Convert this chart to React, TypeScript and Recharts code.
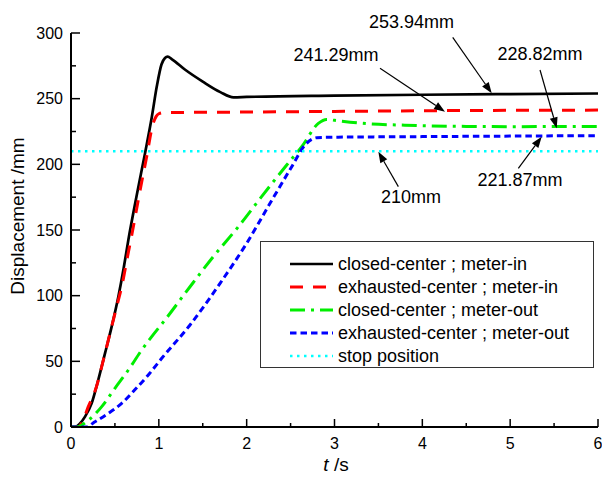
import React from 'react';
import { LineChart, Line, XAxis, YAxis, Legend, ReferenceLine, ReferenceDot } from 'recharts';

const FONT = '"Liberation Sans", Arial, Helvetica, sans-serif';

// closed-center ; meter-in
const closedInT = [0, 0.045, 0.1, 0.16, 0.235, 0.31, 0.387, 0.463, 0.539, 0.6, 0.653, 0.75, 0.843, 0.92, 0.976, 1.03, 1.07, 1.1, 1.15, 1.3, 1.5, 1.7, 1.85, 2.0, 3, 4, 5, 6];
const closedInV = [0, 0, 2.5, 7.9, 18, 35.8, 56, 76.4, 99.2, 121, 142.4, 177, 208.5, 236, 259, 276, 281, 282, 280, 272, 263, 255, 251, 251.3, 252.3, 253.0, 253.5, 253.94];

// exhausted-center ; meter-in
const exhaustedInT = [0, 0.08, 0.13, 0.197, 0.29, 0.368, 0.444, 0.52, 0.584, 0.65, 0.7, 0.78, 0.862, 0.93, 0.97, 1.0, 1.05, 1.2, 2, 3, 4, 5, 6];
const exhaustedInV = [0, 0, 4, 15.5, 30.7, 51, 71.3, 91.6, 109, 132, 149, 178, 206, 230, 236.5, 238.5, 239.3, 239.5, 239.8, 240.3, 240.8, 241.1, 241.29];

// closed-center ; meter-out
const closedOutT = [0, 0.065, 0.2, 0.35, 0.5, 0.653, 0.805, 0.919, 1.07, 1.355, 1.62, 1.905, 2.17, 2.456, 2.627, 2.816, 2.91, 3.0, 3.37, 3.8, 4.5, 5, 6];
const closedOutV = [0, 0, 5.3, 15.5, 29.5, 43.4, 58.6, 68.8, 81.5, 106.8, 129.7, 152.5, 175.4, 199.5, 213.4, 231.2, 234.2, 233.5, 231, 229.8, 228.9, 228.7, 228.82];

// exhausted-center ; meter-out
const exhaustedOutT = [0, 0.17, 0.273, 0.425, 0.577, 0.729, 0.88, 1.033, 1.355, 1.697, 2.0, 2.266, 2.513, 2.664, 2.74, 2.8, 2.95, 4, 5, 6];
const exhaustedOutV = [0, 0, 4, 10.4, 18, 28.5, 39.6, 52.3, 77.7, 109.4, 139.9, 170.3, 198.2, 214.7, 219, 220.3, 220.6, 221.1, 221.5, 221.87];

// stop position
const stopT = [0, 6];
const stopV = [210, 210];

const xTicks = [0, 0.5, 1, 1.5, 2, 2.5, 3, 3.5, 4, 4.5, 5, 5.5, 6];
const yTicks = [0, 25, 50, 75, 100, 125, 150, 175, 200, 225, 250, 275, 300];

const seriesNames = [
  'closed-center ; meter-in',
  'exhausted-center ; meter-in',
  'closed-center ; meter-out',
  'exhausted-center ; meter-out',
  'stop position',
];
const seriesColors = ['#000000', '#ff0000', '#00ee00', '#0000ff', '#00ffff'];
const seriesDash = [undefined, '13 10', '15 6 3 6', '6.5 4', '2.5 4.5'];
const seriesWidth = [2.7, 3, 3, 3, 2.5];

// annotations (data units)
const annotationLabels = ['253.94mm', '241.29mm', '228.82mm', '221.87mm', '210mm'];
const labelT = [3.877, 3.017, 5.34, 5.112, 3.871];
const labelV = [308.6, 283.3, 283.8, 188.1, 175.1];
const arrowFromT = [4.346, 3.518, 5.34, 5.093, 3.727];
const arrowFromV = [296.7, 273.1, 271.8, 197, 183];
const arrowToT = [4.79, 4.258, 5.53, 5.359, 3.499];
const arrowToV = [254.1, 240.1, 227.4, 221, 209.6];

const toPoints = (t: number[], v: number[]) => t.map((tt, i) => ({ t: tt, v: v[i] }));
const seriesData = [
  toPoints(closedInT, closedInV),
  toPoints(exhaustedInT, exhaustedInV),
  toPoints(closedOutT, closedOutV),
  toPoints(exhaustedOutT, exhaustedOutV),
  toPoints(stopT, stopV),
];

const YTick = (props: any) => {
  const { x, y, payload } = props;
  const v = payload.value;
  const major = v % 50 === 0;
  return (
    <g>
      <line x1={x} y1={y} x2={x + (major ? 9 : 5)} y2={y} stroke="#000" strokeWidth={1.5} />
      {major && (
        <text x={x - 8} y={y} textAnchor="end" dominantBaseline="central" fontSize={16} fontFamily={FONT} fill="#000">
          {v}
        </text>
      )}
    </g>
  );
};

const XTick = (props: any) => {
  const { x, y, payload } = props;
  const v = payload.value;
  const major = Number.isInteger(v);
  return (
    <g>
      <line x1={x} y1={y} x2={x} y2={y - (major ? 8 : 4)} stroke="#000" strokeWidth={1.5} />
      {major && (
        <text x={x} y={y + 16} textAnchor="middle" dominantBaseline="central" fontSize={16} fontFamily={FONT} fill="#000">
          {v}
        </text>
      )}
    </g>
  );
};

const ArrowShape = (props: any) => {
  const { x1, y1, x2, y2 } = props;
  if ([x1, y1, x2, y2].some((n) => typeof n !== 'number' || isNaN(n))) return null;
  const dx = x2 - x1;
  const dy = y2 - y1;
  const len = Math.sqrt(dx * dx + dy * dy) || 1;
  const ux = dx / len;
  const uy = dy / len;
  const hl = 11;
  const hw = 4;
  const bx = x2 - ux * hl;
  const by = y2 - uy * hl;
  const pts = `${x2},${y2} ${bx - uy * hw},${by + ux * hw} ${bx + uy * hw},${by - ux * hw}`;
  return (
    <g>
      <line x1={x1} y1={y1} x2={bx} y2={by} stroke="#000" strokeWidth={1.2} />
      <polygon points={pts} fill="#000" />
    </g>
  );
};

const makeLabelShape = (text: string) => (props: any) => {
  const { cx, cy } = props;
  return (
    <text x={cx} y={cy} textAnchor="middle" dominantBaseline="central" fontSize={18} fontFamily={FONT} fill="#000">
      {text}
    </text>
  );
};

const LegendBox = () => {
  const w = 334;
  const h = 127;
  return (
    <svg width={w} height={h} style={{ display: 'block' }}>
      <rect x={0.5} y={0.5} width={w - 1} height={h - 1} fill="#fff" stroke="#333" strokeWidth={1} />
      {seriesNames.map((name, i) => {
        const cy = 23 + i * 23;
        return (
          <g key={name}>
            <line
              x1={30}
              y1={cy}
              x2={73}
              y2={cy}
              stroke={seriesColors[i]}
              strokeWidth={seriesWidth[i]}
              strokeDasharray={seriesDash[i]}
            />
            <text x={78} y={cy} dominantBaseline="central" fontSize={18} fontFamily={FONT} fill="#000">
              {name}
            </text>
          </g>
        );
      })}
    </svg>
  );
};

export default function App() {
  return (
    <div style={{ position: 'absolute', left: 0, top: 0, width: 602, height: 479, background: '#fff' }}>
      <LineChart width={602} height={479} margin={{ top: 33, right: 4, left: 0, bottom: 0 }}>
        <XAxis
          type="number"
          dataKey="t"
          domain={[0, 6]}
          ticks={xTicks}
          interval={0}
          allowDataOverflow
          height={52}
          tickSize={0}
          tickMargin={0}
          tickLine={false}
          tick={<XTick />}
          axisLine={{ stroke: '#000', strokeWidth: 2 }}
        />
        <YAxis
          type="number"
          dataKey="v"
          domain={[0, 300]}
          ticks={yTicks}
          interval={0}
          allowDataOverflow
          width={71}
          tickSize={0}
          tickMargin={0}
          tickLine={false}
          tick={<YTick />}
          axisLine={{ stroke: '#000', strokeWidth: 2 }}
        />
        {seriesData.map((d, i) => (
          <Line
            key={seriesNames[i]}
            data={d}
            dataKey="v"
            name={seriesNames[i]}
            type="monotone"
            stroke={seriesColors[i]}
            strokeWidth={seriesWidth[i]}
            strokeDasharray={seriesDash[i]}
            dot={false}
            activeDot={false}
            isAnimationActive={false}
          />
        ))}
        {annotationLabels.map((lab, i) => (
          <ReferenceLine
            key={'arrow' + lab}
            segment={[
              { x: arrowFromT[i], y: arrowFromV[i] },
              { x: arrowToT[i], y: arrowToV[i] },
            ]}
            ifOverflow="visible"
            shape={ArrowShape}
          />
        ))}
        {annotationLabels.map((lab, i) => (
          <ReferenceDot
            key={'label' + lab}
            x={labelT[i]}
            y={labelV[i]}
            r={0}
            ifOverflow="visible"
            shape={makeLabelShape(lab)}
          />
        ))}
        <Legend
          layout="vertical"
          align="center"
          verticalAlign="middle"
          wrapperStyle={{ left: 260, top: 241, width: 334, height: 127 }}
          content={() => <LegendBox />}
        />
        <text
          transform="translate(17,216) rotate(-90)"
          textAnchor="middle"
          dominantBaseline="central"
          fontSize={19}
          fontFamily={FONT}
          fill="#000"
        >
          Displacement /mm
        </text>
        <text x={336} y={464} textAnchor="middle" dominantBaseline="central" fontSize={19} fontFamily={FONT} fill="#000">
          <tspan fontStyle="italic">t</tspan>
          <tspan> /s</tspan>
        </text>
      </LineChart>
    </div>
  );
}
